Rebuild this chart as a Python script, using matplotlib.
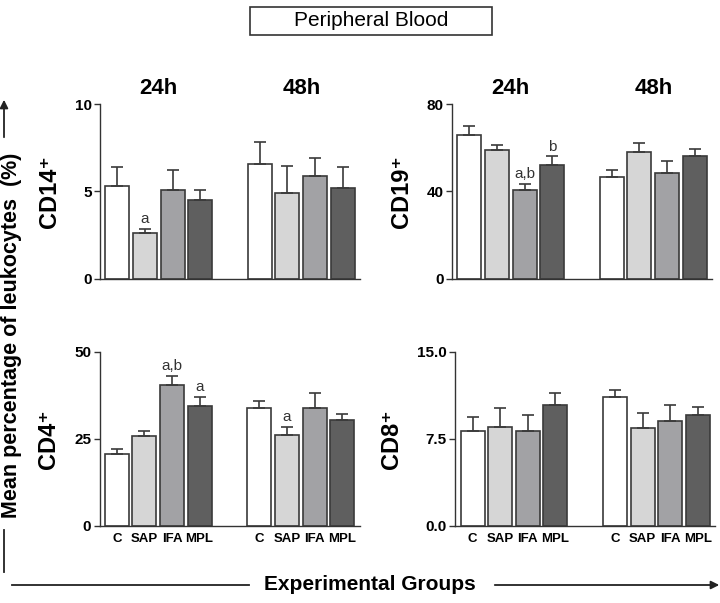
import matplotlib
matplotlib.use("Agg")
import matplotlib.pyplot as plt
import matplotlib.transforms as mtransforms
from matplotlib.patches import Rectangle, FancyArrowPatch
from matplotlib.lines import Line2D

plt.rcParams['font.family'] = ['Liberation Sans', 'DejaVu Sans']

# data
groups = ['C', 'SAP', 'IFA', 'MPL']
times = ['24h', '48h']

cd14_mean = [5.3, 2.6, 5.1, 4.5, 6.6, 4.9, 5.9, 5.2]
cd14_err = [1.1, 0.25, 1.1, 0.6, 1.25, 1.55, 1.0, 1.2]
cd19_mean = [65.7, 59.0, 40.5, 52.3, 46.4, 58.1, 48.6, 56.4]
cd19_err = [4.3, 2.5, 2.9, 3.8, 3.6, 4.1, 5.2, 2.9]
cd4_mean = [20.5, 25.7, 40.5, 34.3, 33.8, 26.1, 33.7, 30.3]
cd4_err = [1.4, 1.4, 2.5, 2.8, 1.9, 2.2, 4.5, 1.7]
cd8_mean = [8.13, 8.48, 8.19, 10.37, 11.09, 8.39, 8.99, 9.51]
cd8_err = [1.24, 1.69, 1.32, 1.1, 0.63, 1.32, 1.41, 0.69]

cd14_ticks = [0, 5, 10]
cd19_ticks = [0, 40, 80]
cd4_ticks = [0, 25, 50]
cd8_ticks = [0, 7.5, 15.0]
cd8_ticklabels = ['0.0', '7.5', '15.0']

# letters over bars: (bar index, text)
cd14_sig = [(1, 'a')]
cd19_sig = [(2, 'a,b'), (3, 'b')]
cd4_sig = [(2, 'a,b'), (3, 'a'), (5, 'a')]
cd8_sig = []

colors = ['white', '#d6d6d6', '#a2a2a5', '#5f5f5f']
edge = '#3a3a3a'
pos = [0, 1, 2, 3, 5.17, 6.17, 7.17, 8.17]

W, H = 720, 603
fig = plt.figure(figsize=(7.2, 6.03), dpi=100)


def add_ax(left, right, top, bottom):
    return fig.add_axes([left / W, 1 - bottom / H, (right - left) / W, (bottom - top) / H])


def panel(ax, mean, err, ticks, ylabel, sig, ticklabels=None, xlabels=False):
    cols = colors * 2
    ax.bar(pos, mean, width=0.87, color=cols, edgecolor=edge, linewidth=1.2, zorder=2)
    ax.errorbar(pos, mean, yerr=[[0] * len(mean), err], fmt='none', ecolor=edge,
                elinewidth=1.2, capsize=4.5, capthick=1.2, zorder=3)
    for i, s in sig:
        ax.annotate(s, (pos[i], mean[i] + err[i]), xytext=(0, 2), textcoords='offset points',
                    ha='center', va='bottom', fontsize=11, color='#333333')
    ax.set_xlim(-0.63, 8.8)
    ax.set_ylim(ticks[0], ticks[-1])
    ax.set_yticks(ticks)
    if ticklabels is not None:
        ax.set_yticklabels(ticklabels)
    for lab in ax.get_yticklabels():
        lab.set_fontweight('bold')
    ax.tick_params(axis='y', length=4, width=1, color='#333333', labelsize=11, pad=2)
    if xlabels:
        ax.set_xticks(pos, groups * 2)
        ax.tick_params(axis='x', length=0, pad=5, labelsize=9.5)
        for lab in ax.get_xticklabels():
            lab.set_fontweight('bold')
    else:
        ax.set_xticks([])
    for s in ['top', 'right']:
        ax.spines[s].set_visible(False)
    for s in ['left', 'bottom']:
        ax.spines[s].set_color('#333333')
        ax.spines[s].set_linewidth(1)
    ax.set_ylabel(ylabel, fontsize=17, fontweight='bold', labelpad=10)


ax1 = add_ax(100, 360, 104.3, 278.5)
ax2 = add_ax(452, 712, 104.3, 278.5)
ax3 = add_ax(99.5, 359.5, 351.7, 525.7)
ax4 = add_ax(455.3, 715.3, 351.7, 525.7)

panel(ax1, cd14_mean, cd14_err, cd14_ticks, 'CD14⁺', cd14_sig)
panel(ax2, cd19_mean, cd19_err, cd19_ticks, 'CD19⁺', cd19_sig)
panel(ax3, cd4_mean, cd4_err, cd4_ticks, 'CD4⁺', cd4_sig, xlabels=True)
panel(ax4, cd8_mean, cd8_err, cd8_ticks, 'CD8⁺', cd8_sig, ticklabels=cd8_ticklabels, xlabels=True)

# time labels above top panels
for ax in (ax1, ax2):
    tr = mtransforms.blended_transform_factory(ax.transData, fig.transFigure)
    for k, t in enumerate(times):
        cx = (pos[4 * k] + pos[4 * k + 3]) / 2
        ax.text(cx, 1 - 88 / H, t, transform=tr, ha='center', va='center',
                fontsize=16, fontweight='bold')

# title box
fig.patches.append(Rectangle((250 / W, 1 - 35 / H), (491.7 - 250) / W, 28 / H,
                             transform=fig.transFigure, fill=False, edgecolor='#333333',
                             linewidth=1.2))
fig.text(371 / W, 1 - 21 / H, 'Peripheral Blood', ha='center', va='center', fontsize=15)

# bottom axis title with lines
fig.text(370 / W, 1 - 585 / H, 'Experimental Groups', ha='center', va='center',
         fontsize=15, fontweight='bold')
fig.add_artist(Line2D([12 / W, 249 / W], [1 - 585 / H] * 2, color='#222222', lw=1.3))
fig.add_artist(FancyArrowPatch((492 / W, 1 - 585 / H), (722 / W, 1 - 585 / H),
                               transform=fig.transFigure, arrowstyle='-|>',
                               mutation_scale=12, color='#222222', lw=1.3))

# left axis title with lines
fig.text(1 / W, 1 - 335.5 / H, 'Mean percentage of leukocytes  (%)', rotation=90,
         ha='left', va='center', fontsize=15.5, fontweight='bold')
fig.add_artist(FancyArrowPatch((4 / W, 1 - 140 / H), (4 / W, 1 - 97 / H),
                               transform=fig.transFigure, arrowstyle='-|>',
                               mutation_scale=12, color='#222222', lw=1.3))
fig.add_artist(Line2D([4 / W] * 2, [1 - 530 / H, 1 - 572 / H], color='#222222', lw=1.3))

fig.savefig('out.png', dpi=100)
